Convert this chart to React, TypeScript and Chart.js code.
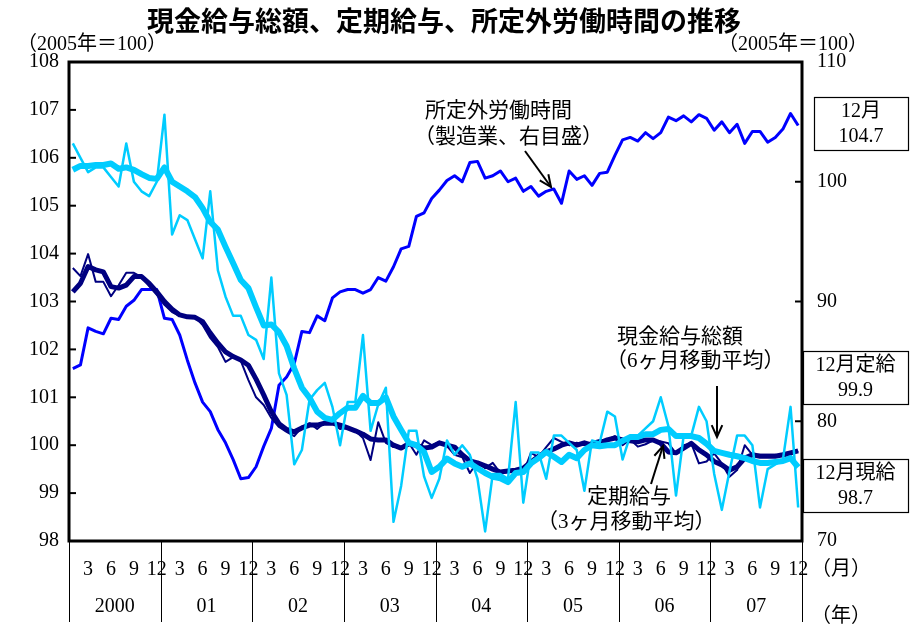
import React, { useEffect, useRef } from 'react';
import { Chart, registerables } from 'chart.js';

Chart.register(...registerables);

const TITLE = '現金給与総額、定期給与、所定外労働時間の推移';
const UNIT = '（2005年＝100）';
const YEARS = ['2000', '01', '02', '03', '04', '05', '06', '07'];
const MONTHS = [1, 2, 3, 4, 5, 6, 7, 8, 9, 10, 11, 12];
const CATEGORIES = YEARS.flatMap((y) => MONTHS.map((m) => `${y}/${m}`));

// 所定外労働時間（製造業、右目盛）
const OVERTIME = [
  84.4, 84.7, 87.8, 87.5, 87.3, 88.6, 88.5, 89.6, 90.1, 91.0, 91.0, 91.0,
  88.6, 88.5, 87.2, 85.1, 83.2, 81.6, 80.8, 79.3, 78.2, 76.8, 75.2, 75.3,
  76.2, 77.9, 79.4, 83.0, 83.7, 84.8, 87.5, 87.4, 88.8, 88.4, 90.3, 90.8,
  91.0, 91.0, 90.7, 91.0, 92.0, 91.7, 92.9, 94.4, 94.6, 97.1, 97.4, 98.6,
  99.3, 100.1, 100.5, 100.0, 101.6, 101.7, 100.3, 100.5, 100.9, 100.0, 100.3, 99.2,
  99.6, 98.8, 99.2, 99.4, 98.2, 100.9, 100.2, 100.5, 99.7, 100.7, 100.8, 102.2,
  103.5, 103.7, 103.4, 104.1, 103.6, 104.1, 105.4, 105.1, 105.5, 105.0, 105.6, 105.3,
  104.3, 105.0, 104.1, 104.8, 103.2, 104.2, 104.2, 103.3, 103.7, 104.4, 105.7, 104.7,
];

// 現金給与総額（月次）
const CASH_RAW = [
  106.3, 106.0, 105.7, 105.8, 105.8, 105.6, 105.4, 106.3, 105.5, 105.3, 105.2, 105.5,
  106.9, 104.4, 104.8, 104.7, 104.3, 103.9, 105.3, 103.65, 103.1, 102.7, 102.7, 102.3,
  102.2, 101.8, 103.5, 101.5, 101.05, 99.6, 99.9, 100.95, 101.15, 101.3, 100.8, 100.0,
  100.9, 100.9, 102.3, 100.3, 100.85, 101.2, 98.4, 99.15, 100.3, 100.3, 99.35, 98.9,
  99.3, 100.1, 99.8, 100.0, 99.8, 99.3, 98.2, 99.4, 99.4, 99.3, 100.9, 98.8,
  99.85, 99.85, 99.3, 100.2, 100.2, 100.05, 99.9, 99.05, 100.1, 100.05, 100.7, 100.6,
  99.7, 100.2, 100.2, 100.35, 100.5, 101.0, 100.4, 98.95, 100.2, 100.2, 100.8, 100.5,
  99.4, 98.65, 99.45, 100.2, 100.2, 100.0, 98.7, 99.5, 99.6, 99.7, 100.8, 98.7,
];

// 現金給与総額（6ヶ月移動平均）
const CASH_MA6 = [
  105.75, 105.83, 105.83, 105.85, 105.85, 105.88, 105.77, 105.8, 105.75, 105.66, 105.58, 105.56,
  105.8, 105.5, 105.4, 105.3, 105.18, 104.95, 104.66, 104.5, 104.14, 103.8, 103.45, 103.28,
  102.88, 102.5, 102.52, 102.36, 102.07, 101.6, 101.2, 100.99, 100.7, 100.57, 100.53, 100.67,
  100.78, 100.78, 101.03, 100.88, 100.88, 101.0, 100.6, 100.32, 100.05, 100.0, 99.86, 99.44,
  99.55, 99.72, 99.62, 99.55, 99.62, 99.52, 99.42, 99.34, 99.31, 99.23, 99.42, 99.44,
  99.62, 99.73, 99.86, 99.76, 99.65, 99.8, 99.73, 99.9, 100.0, 99.98, 100.0, 100.0,
  100.09, 100.17, 100.17, 100.23, 100.23, 100.32, 100.34, 100.19, 100.19, 100.19, 100.15, 100.03,
  99.88, 99.84, 99.8, 99.77, 99.73, 99.67, 99.63, 99.63, 99.65, 99.67, 99.73, 99.54,
];

// 定期給与（月次）
const REG_RAW = [
  103.7, 103.53, 103.99, 103.41, 103.41, 103.11, 103.34, 103.6, 103.6, 103.51, 103.32, 103.14,
  102.93, 102.78, 102.7, 102.68, 102.68, 102.51, 102.24, 102.05, 101.74, 101.84, 101.76, 101.36,
  101.0, 100.84, 100.57, 100.38, 100.28, 100.19, 100.38, 100.46, 100.34, 100.48, 100.46, 100.34,
  100.36, 100.3, 100.15, 99.69, 100.48, 100.05, 99.96, 99.96, 100.05, 99.8, 100.1, 100.0,
  100.07, 99.98, 99.8, 99.75, 99.42, 99.65, 99.52, 99.63, 99.42, 99.44, 99.48, 99.42,
  99.84, 99.75, 99.96, 100.15, 100.07, 100.0, 100.05, 100.0, 100.07, 100.11, 100.11, 100.19,
  100.0, 100.12, 99.97, 100.02, 100.1, 100.08, 100.04, 99.83, 100.0, 100.04, 99.62, 99.66,
  99.83, 99.62, 99.34, 99.48, 100.0, 99.8, 99.8, 99.8, 99.8, 99.77, 99.8, 99.88,
];

// 定期給与（3ヶ月移動平均）
const REG_MA3 = [
  103.2, 103.38, 103.73, 103.66, 103.62, 103.31, 103.28, 103.34, 103.52, 103.52, 103.38, 103.2,
  103.0, 102.84, 102.72, 102.68, 102.67, 102.58, 102.34, 102.13, 101.95, 101.85, 101.78, 101.67,
  101.38, 101.05, 100.7, 100.45, 100.33, 100.28, 100.36, 100.42, 100.42, 100.46, 100.46, 100.42,
  100.36, 100.3, 100.23, 100.13, 100.11, 100.11, 100.0, 99.94, 100.03, 100.0, 99.94, 99.96,
  100.05, 100.0, 99.96, 99.8, 99.67, 99.63, 99.57, 99.5, 99.44, 99.46, 99.48, 99.52,
  99.65, 99.77, 99.86, 99.92, 100.0, 100.05, 100.0, 100.05, 100.0, 100.05, 100.11, 100.15,
  100.11, 100.09, 100.07, 100.11, 100.11, 100.04, 99.86, 99.84, 99.94, 100.04, 99.9, 99.8,
  99.66, 99.59, 99.48, 99.55, 99.73, 99.8, 99.77, 99.77, 99.77, 99.8, 99.84, 99.88,
];

const LEFT_MIN = 98;
const LEFT_MAX = 108;
const LEFT_STEP = 1;
const RIGHT_MIN = 70;
const RIGHT_MAX = 110;
const RIGHT_STEP = 10;

const SERIF = '"Liberation Serif", "Noto Sans CJK JP", serif';
const GOTHIC = '"Noto Sans CJK JP", sans-serif';
const BLUE = '#0000ff';
const CYAN = '#00ccff';
const NAVY = '#000080';

function drawArrow(ctx: CanvasRenderingContext2D, x1: number, y1: number, x2: number, y2: number) {
  ctx.beginPath();
  ctx.moveTo(x1, y1);
  ctx.lineTo(x2, y2);
  ctx.stroke();
  const ang = Math.atan2(y2 - y1, x2 - x1);
  const len = 13;
  const spread = 0.42;
  ctx.beginPath();
  ctx.moveTo(x2 - len * Math.cos(ang - spread), y2 - len * Math.sin(ang - spread));
  ctx.lineTo(x2, y2);
  ctx.lineTo(x2 - len * Math.cos(ang + spread), y2 - len * Math.sin(ang + spread));
  ctx.stroke();
}

function drawBox(ctx: CanvasRenderingContext2D, x: number, y: number, w: number, h: number, l1: string, l2: string) {
  ctx.fillStyle = '#fff';
  ctx.fillRect(x, y, w, h);
  ctx.strokeStyle = '#000';
  ctx.lineWidth = 1.2;
  ctx.strokeRect(x + 0.5, y + 0.5, w, h);
  ctx.fillStyle = '#000';
  ctx.font = `20px ${SERIF}`;
  ctx.textAlign = 'center';
  ctx.textBaseline = 'middle';
  ctx.fillText(l1, x + w / 2, y + h * 0.27);
  ctx.fillText(l2, x + w / 2, y + h * 0.75);
}

const decorPlugin = {
  id: 'decor',
  afterDraw(chart: any) {
    const { ctx, chartArea: a, scales } = chart;
    const x = scales.x;
    const y = scales.y;
    const y1 = scales.y1;
    ctx.save();
    ctx.strokeStyle = '#000';
    ctx.lineCap = 'butt';

    // year separators
    ctx.lineWidth = 1;
    for (let i = 0; i <= YEARS.length; i++) {
      const px = Math.round(x.getPixelForValue(i * 12 - 0.5)) + 0.5;
      ctx.beginPath();
      ctx.moveTo(px, a.bottom);
      ctx.lineTo(px, 622);
      ctx.stroke();
    }

    // inward tick marks
    ctx.lineWidth = 2;
    y.ticks.forEach((t: any) => {
      const py = y.getPixelForValue(t.value);
      ctx.beginPath();
      ctx.moveTo(a.left, py);
      ctx.lineTo(a.left + 7, py);
      ctx.stroke();
    });
    y1.ticks.forEach((t: any) => {
      const py = y1.getPixelForValue(t.value);
      ctx.beginPath();
      ctx.moveTo(a.right - 7, py);
      ctx.lineTo(a.right, py);
      ctx.stroke();
    });

    // frame
    ctx.lineWidth = 3;
    ctx.strokeRect(a.left, a.top, a.right - a.left, a.bottom - a.top);

    // title
    ctx.fillStyle = '#000';
    ctx.textBaseline = 'middle';
    ctx.textAlign = 'center';
    ctx.font = `bold 27px ${GOTHIC}`;
    ctx.fillText(TITLE, 444, 21);

    // units
    ctx.font = `20px ${SERIF}`;
    ctx.fillText(UNIT, 92, 45);
    ctx.fillText(UNIT, 793, 45);
    ctx.textAlign = 'left';
    ctx.fillText('（月）', 811, 570);
    ctx.fillText('（年）', 811, 617);

    // annotations
    ctx.font = `21px ${SERIF}`;
    ctx.fillText('所定外労働時間', 425, 111);
    ctx.fillText('（製造業、右目盛）', 414, 137);
    ctx.fillText('現金給与総額', 617, 337);
    ctx.fillText('（6ヶ月移動平均）', 606, 361);
    ctx.fillText('定期給与', 587, 497);
    ctx.fillText('（3ヶ月移動平均）', 537, 522);

    ctx.lineWidth = 2;
    drawArrow(ctx, 525, 151, 551, 187);
    drawArrow(ctx, 717, 386, 717, 437);
    drawArrow(ctx, 651, 484, 663, 446);

    // value boxes (December 2007)
    const last = CATEGORIES.length - 1;
    drawBox(ctx, 814, 97, 94, 53, '12月', OVERTIME[last].toFixed(1));
    drawBox(ctx, 803, 351, 105, 53, '12月定給', REG_RAW[last].toFixed(1));
    drawBox(ctx, 803, 459, 105, 53, '12月現給', CASH_RAW[last].toFixed(1));

    ctx.restore();
  },
};

export default function App() {
  const ref = useRef<HTMLCanvasElement>(null);

  useEffect(() => {
    const tickFont = { family: SERIF, size: 20 };
    const line = (label: string, data: number[], color: string, width: number, axis: string, order: number) => ({
      label,
      data,
      borderColor: color,
      backgroundColor: color,
      borderWidth: width,
      pointRadius: 0,
      pointHoverRadius: 0,
      tension: 0,
      fill: false,
      yAxisID: axis,
      order,
      borderJoinStyle: 'round' as const,
    });

    const chart = new Chart(ref.current as HTMLCanvasElement, {
      type: 'line',
      data: {
        labels: CATEGORIES,
        datasets: [
          line('現金給与総額', CASH_RAW, CYAN, 2.5, 'y', 1),
          line('現金給与総額（6ヶ月移動平均）', CASH_MA6, CYAN, 6, 'y', 2),
          line('定期給与', REG_RAW, NAVY, 2, 'y', 3),
          line('定期給与（3ヶ月移動平均）', REG_MA3, NAVY, 5, 'y', 4),
          line('所定外労働時間（製造業）', OVERTIME, BLUE, 3, 'y1', 5),
        ],
      },
      options: {
        responsive: false,
        maintainAspectRatio: false,
        animation: false,
        devicePixelRatio: 1,
        events: [],
        layout: { padding: { top: 62, bottom: 0, left: 0, right: 0 } },
        plugins: {
          legend: { display: false },
          tooltip: { enabled: false },
          title: { display: false },
        },
        scales: {
          x: {
            type: 'category',
            position: 'bottom',
            offset: true,
            weight: 0,
            grid: { display: false, drawTicks: false },
            border: { display: false },
            ticks: {
              autoSkip: false,
              maxRotation: 0,
              minRotation: 0,
              padding: 17,
              color: '#000',
              font: tickFont,
              callback: (_v: any, i: number) => {
                const m = Number(CATEGORIES[i].split('/')[1]);
                return m % 3 === 0 ? String(m) : '';
              },
            },
            afterFit: (s: any) => {
              s.height = 45;
              s.paddingLeft = 0;
              s.paddingRight = 0;
            },
          },
          x2: {
            type: 'category',
            labels: YEARS,
            position: 'bottom',
            offset: true,
            weight: 1,
            grid: { display: false, drawTicks: false },
            border: { display: false },
            ticks: { autoSkip: false, maxRotation: 0, padding: 9, color: '#000', font: tickFont },
            afterFit: (s: any) => {
              s.height = 45;
              s.paddingLeft = 0;
              s.paddingRight = 0;
            },
          },
          y: {
            type: 'linear',
            position: 'left',
            min: LEFT_MIN,
            max: LEFT_MAX,
            grid: { display: false, drawTicks: false },
            border: { display: false },
            ticks: { stepSize: LEFT_STEP, padding: 10, color: '#000', font: tickFont },
            afterFit: (s: any) => {
              s.width = 69;
              s.paddingTop = 0;
              s.paddingBottom = 0;
            },
          },
          y1: {
            type: 'linear',
            position: 'right',
            min: RIGHT_MIN,
            max: RIGHT_MAX,
            grid: { display: false, drawTicks: false },
            border: { display: false },
            ticks: { stepSize: RIGHT_STEP, padding: 15, color: '#000', font: tickFont },
            afterFit: (s: any) => {
              s.width = 118;
              s.paddingTop = 0;
              s.paddingBottom = 0;
            },
          },
        },
      },
      plugins: [decorPlugin],
    } as any);

    return () => chart.destroy();
  }, []);

  return (
    <div style={{ position: 'absolute', left: 0, top: 0, width: 920, height: 631, background: '#fff' }}>
      <canvas ref={ref} width={920} height={631} style={{ display: 'block' }} />
    </div>
  );
}
